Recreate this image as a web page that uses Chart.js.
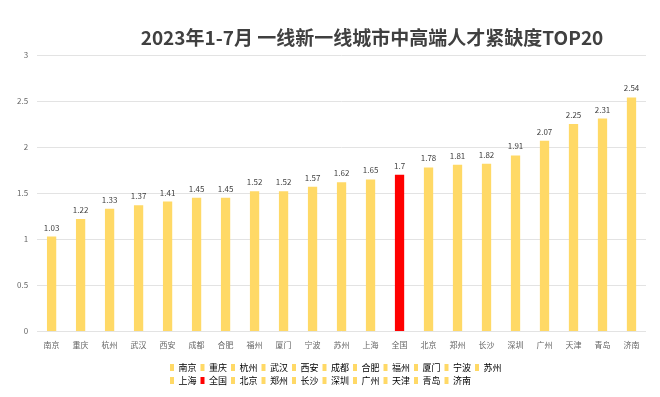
<!DOCTYPE html>
<html>
<head>
<meta charset="utf-8">
<script src="https://cdn.jsdelivr.net/npm/chart.js@4"></script>
<style>
  html, body { margin: 0; padding: 0; background: #fff; }
  #wrap { width: 660px; height: 397px; }
</style>
</head>
<body>
<div id="wrap"><canvas id="bieudo"></canvas></div>
<script>
const chartTitle = '2023年1-7月 一线新一线城市中高端人才紧缺度TOP20';
const cities = ['南京', '重庆', '杭州', '武汉', '西安', '成都', '合肥', '福州', '厦门', '宁波', '苏州',
    '上海', '全国', '北京', '郑州', '长沙', '深圳', '广州', '天津', '青岛', '济南'];
const values = [1.03, 1.22, 1.33, 1.37, 1.41, 1.45, 1.45, 1.52, 1.52, 1.57, 1.62,
    1.65, 1.7, 1.78, 1.81, 1.82, 1.91, 2.07, 2.25, 2.31, 2.54];
const yTicks = [0, 0.5, 1, 1.5, 2, 2.5, 3];

const font = '"Noto Sans CJK SC", "Noto Sans", sans-serif';
const yellow = '#FFD966';
const red = '#FF0000';
const colors = cities.map(c => c === '全国' ? red : yellow);

// value labels over bars
const barLabels = {
    id: 'barLabels',
    afterDatasetsDraw(chart) {
        const ctx = chart.ctx;
        const meta = chart.getDatasetMeta(0);
        ctx.save();
        ctx.font = '8px ' + font;
        ctx.fillStyle = '#404040';
        ctx.textAlign = 'center';
        ctx.textBaseline = 'bottom';
        meta.data.forEach((bar, i) => {
            ctx.fillText(String(values[i]), bar.x, bar.y - 5);
        });
        ctx.restore();
    }
};

// title sits a bit right of centre in the original
const titleText = {
    id: 'titleText',
    afterDraw(chart) {
        const ctx = chart.ctx;
        ctx.save();
        ctx.font = 'bold 19px ' + font;
        ctx.fillStyle = '#404040';
        ctx.textAlign = 'center';
        ctx.textBaseline = 'middle';
        ctx.fillText(chartTitle, 372, 38);
        ctx.restore();
    }
};

// legend breaks after 11 items and both rows start at the same x
const legendWrap = {
    id: 'legendWrap',
    afterInit(chart) {
        const lg = chart.legend;
        const orig = lg.update.bind(lg);
        lg.update = (w, h, m) => orig(Math.min(w, 355), h, m);
    },
    afterLayout(chart) {
        chart.legend.left = 166;
        chart.legend.right = 522;
    }
};

const el = document.getElementById('bieudo');

new Chart(el, {
    type: 'bar',
    data: {
        labels: cities,
        datasets: [{
            label: '紧缺度',
            data: values,
            backgroundColor: colors,
            categoryPercentage: 1,
            barPercentage: 0.32
        }]
    },
    plugins: [barLabels, titleText, legendWrap],
    options: {
        responsive: true,
        maintainAspectRatio: false,
        animation: false,
        layout: {
            padding: { top: 55, left: 8, right: 14, bottom: 2 }
        },
        scales: {
            x: {
                grid: { display: false, drawTicks: false },
                border: { display: false },
                ticks: {
                    color: '#666',
                    font: { family: font, size: 8 },
                    padding: 9,
                    maxRotation: 0,
                    autoSkip: false
                }
            },
            y: {
                min: 0,
                max: 3,
                afterBuildTicks(axis) {
                    axis.ticks = yTicks.map(v => ({ value: v }));
                },
                grid: { color: '#e3e3e3', drawTicks: false },
                border: { display: false },
                ticks: {
                    color: '#666',
                    font: { family: font, size: 8 },
                    padding: 9,
                    callback: v => String(v)
                }
            }
        },
        plugins: {
            title: { display: false },
            tooltip: { enabled: false },
            legend: {
                position: 'bottom',
                align: 'start',
                labels: {
                    boxWidth: 4,
                    boxHeight: 7,
                    padding: 4,
                    color: '#595959',
                    font: { family: font, size: 9 },
                    generateLabels() {
                        return cities.map((c, i) => ({
                            text: c,
                            fillStyle: colors[i],
                            strokeStyle: colors[i],
                            lineWidth: 0,
                            index: i
                        }));
                    }
                }
            }
        }
    }
});
</script>
</body>
</html>
